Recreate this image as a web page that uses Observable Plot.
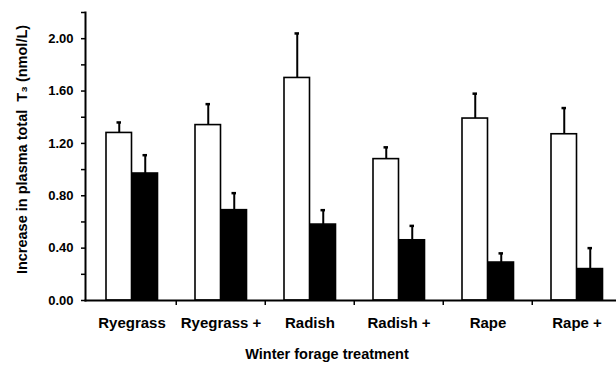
<!DOCTYPE html>
<html>
<head>
<meta charset="utf-8">
<script src="https://cdn.jsdelivr.net/npm/d3@7"></script>
<script src="https://cdn.jsdelivr.net/npm/@observablehq/plot@0.6"></script>
<style>
  html, body { margin: 0; padding: 0; background: #fff; }
  #chart svg { display: block; font-family: Arial, "Liberation Sans", sans-serif; }
</style>
</head>
<body>
<div id="chart"></div>
<script>
// ---- data ----
const categories = ["Ryegrass", "Ryegrass +", "Radish", "Radish +", "Rape", "Rape +"];
const openValues = [1.28, 1.34, 1.70, 1.08, 1.39, 1.27];   // white bars
const openErrors = [0.08, 0.16, 0.34, 0.09, 0.19, 0.20];
const solidValues = [0.97, 0.69, 0.58, 0.46, 0.29, 0.24];  // black bars
const solidErrors = [0.14, 0.13, 0.11, 0.11, 0.07, 0.16];
const majorTicks = [0, 0.4, 0.8, 1.2, 1.6, 2.0];
const minorTicks = [0.2, 0.6, 1.0, 1.4, 1.8, 2.2];
const xTitle = "Winter forage treatment";
const yTitle = "Increase in plasma total  T\u2083 (nmol/L)";

const openData = categories.map((c, i) => ({cat: c, v: openValues[i], top: openValues[i] + openErrors[i]}));
const solidData = categories.map((c, i) => ({cat: c, v: solidValues[i], top: solidValues[i] + solidErrors[i]}));

const W = 616, H = 367;
const bw = (622 - 85) / 6;

const chart = Plot.plot({
  width: W,
  height: H,
  marginLeft: 85,
  marginRight: 0,
  marginTop: 12,
  marginBottom: 67,
  style: {fontFamily: "Arial, 'Liberation Sans', sans-serif", background: "#fff", color: "#000"},
  x: {domain: categories, range: [85, 622], padding: 0, axis: null},
  y: {domain: [0, 2.2], axis: null},
  marks: [
    // bars
    Plot.barY(openData, {x: "cat", y: "v", fill: "#fff", stroke: "#000", strokeWidth: 1.6,
      insetLeft: 19, insetRight: bw - 45}),
    Plot.barY(solidData, {x: "cat", y: "v", fill: "#000", stroke: "#000", strokeWidth: 1.6,
      insetLeft: 45, insetRight: bw - 71}),
    // error bars (upper only)
    Plot.ruleX(openData, {x: "cat", y1: "v", y2: "top", dx: -12.75, stroke: "#000", strokeWidth: 2}),
    Plot.ruleX(solidData, {x: "cat", y1: "v", y2: "top", dx: 13.25, stroke: "#000", strokeWidth: 2}),
    Plot.tickY(openData, {x: "cat", y: "top", stroke: "#000", strokeWidth: 2.5,
      insetLeft: 29.5, insetRight: bw - 34.5}),
    Plot.tickY(solidData, {x: "cat", y: "top", stroke: "#000", strokeWidth: 2.5,
      insetLeft: 55.5, insetRight: bw - 60.5}),
    // axes lines
    Plot.frame({anchor: "left", stroke: "#000", strokeWidth: 2}),
    Plot.frame({anchor: "bottom", stroke: "#000", strokeWidth: 2}),
    // y axis ticks
    Plot.axisY(majorTicks, {tickSize: 4, tickPadding: 8, tickFormat: d3.format(".2f"),
      fontSize: 13, fontWeight: "bold", stroke: "#000", strokeWidth: 1.5, label: null}),
    Plot.axisY(minorTicks, {tickSize: 4, tickFormat: () => "", stroke: "#000", strokeWidth: 1.5, label: null}),
    // x axis labels and between-group ticks
    Plot.axisX(categories, {tickSize: 0, tickPadding: 17, fontSize: 15, fontWeight: "bold", label: null}),
    Plot.axisX(categories.slice(1), {tickSize: 5, dx: -bw / 2, tickFormat: () => "", stroke: "#000", strokeWidth: 1.5, label: null}),
    // axis titles
    Plot.text([xTitle], {frameAnchor: "bottom", dy: 58, dx: -24, fontSize: 14.5, fontWeight: "bold", fill: "#000"}),
    Plot.text([yTitle], {frameAnchor: "left", rotate: -90, textAnchor: "middle", dx: -63, dy: -7, fontSize: 14.5, fontWeight: "bold", fill: "#000"})
  ]
});
document.getElementById("chart").appendChild(chart);
</script>
</body>
</html>
